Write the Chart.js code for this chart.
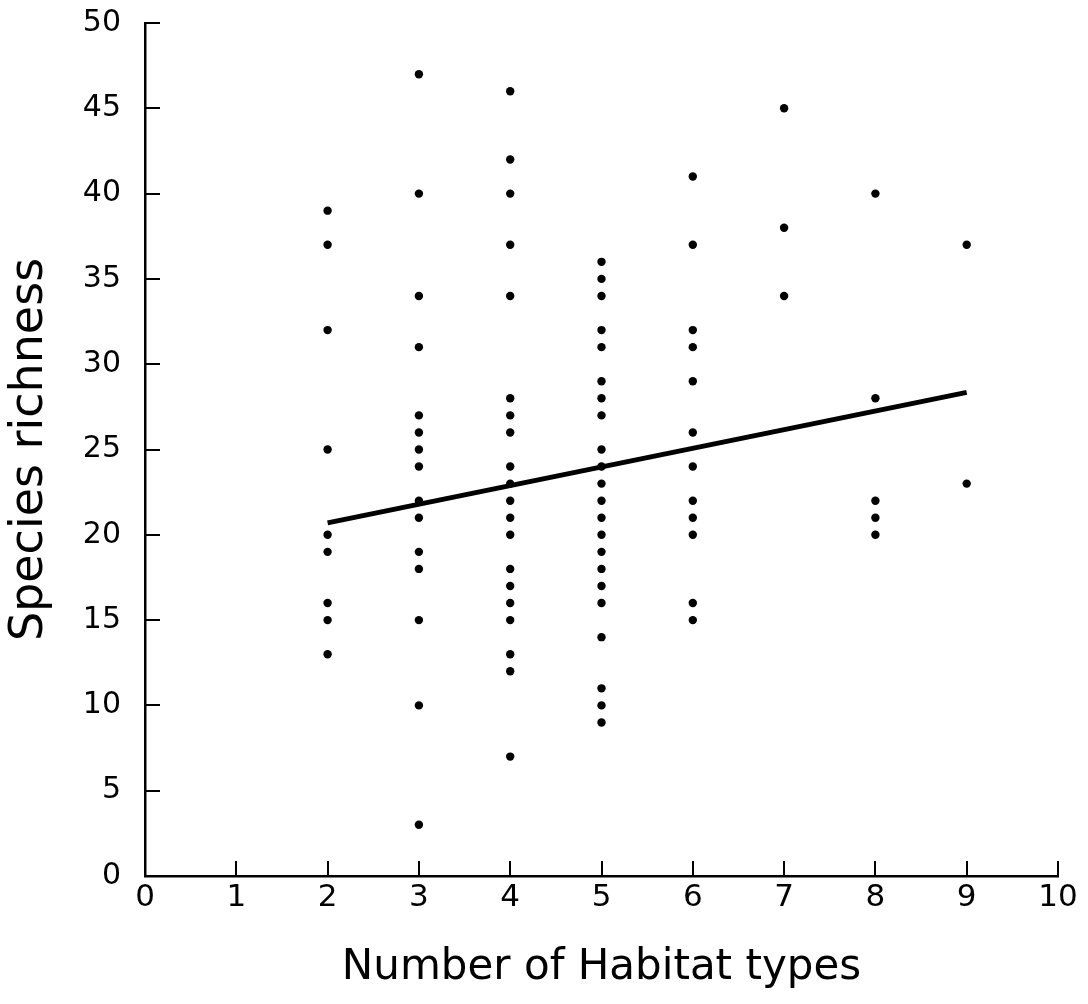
<!doctype html>
<html lang="en">
<head>
  <meta charset="utf-8">
  <title>Species richness vs habitat types</title>
  <script src="https://cdn.jsdelivr.net/npm/chart.js@4.4.1/dist/chart.umd.min.js"></script>
  <style>
    body { margin: 0; background: #fff; }
    #wrap { width: 1088px; height: 1004px; }
  </style>
</head>
<body>
  <div id="wrap"><canvas id="myChart" width="1088" height="1004"></canvas></div>
  <script>
    // number of habitat types per site and species richness found there
    const habitatX = [
      2, 2, 2, 2, 2, 2, 2, 2, 2,
      3, 3, 3, 3, 3, 3, 3, 3, 3, 3, 3, 3, 3, 3, 3,
      4, 4, 4, 4, 4, 4, 4, 4, 4, 4, 4, 4, 4, 4, 4, 4, 4, 4, 4, 4,
      5, 5, 5, 5, 5, 5, 5, 5, 5, 5, 5, 5, 5, 5, 5, 5, 5, 5, 5, 5, 5, 5,
      6, 6, 6, 6, 6, 6, 6, 6, 6, 6, 6, 6,
      7, 7, 7,
      8, 8, 8, 8, 8,
      9, 9
    ];
    const richnessY = [
      39, 37, 32, 25, 20, 19, 16, 15, 13,
      47, 40, 34, 31, 27, 26, 25, 24, 22, 21, 19, 18, 15, 10, 3,
      46, 42, 40, 37, 34, 28, 27, 26, 24, 23, 22, 21, 20, 18, 17, 16, 15, 13, 12, 7,
      36, 35, 34, 32, 31, 29, 28, 27, 25, 24, 23, 22, 21, 20, 19, 18, 17, 16, 14, 11, 10, 9,
      41, 37, 32, 31, 29, 26, 24, 22, 21, 20, 16, 15,
      45, 38, 34,
      40, 28, 22, 21, 20,
      37, 23
    ];

    // end points of the fitted line
    const fitX = [2, 9];
    const fitY = [20.7, 28.35];

    const xTicks = [0, 1, 2, 3, 4, 5, 6, 7, 8, 9, 10];
    const yTicks = [0, 5, 10, 15, 20, 25, 30, 35, 40, 45, 50];

    const points = habitatX.map((x, i) => ({ x: x, y: richnessY[i] }));
    const fitLine = fitX.map((x, i) => ({ x: x, y: fitY[i] }));

    // short tick marks pointing into the plot
    const innerTicks = {
      id: 'innerTicks',
      afterDraw(chart) {
        const ctx = chart.ctx;
        const xs = chart.scales.x, ys = chart.scales.y;
        const area = chart.chartArea;
        ctx.save();
        ctx.strokeStyle = '#000';
        ctx.lineWidth = 2;
        ctx.beginPath();
        xTicks.forEach(v => {
          const px = Math.round(xs.getPixelForValue(v));
          ctx.moveTo(px, area.bottom);
          ctx.lineTo(px, area.bottom - 15);
        });
        yTicks.forEach(v => {
          const py = Math.round(ys.getPixelForValue(v));
          ctx.moveTo(area.left, py);
          ctx.lineTo(area.left + 15, py);
        });
        ctx.stroke();
        ctx.restore();
      }
    };

    const font = 'DejaVu Sans';

    new Chart(document.getElementById('myChart'), {
      type: 'scatter',
      data: {
        datasets: [
          {
            label: 'sites',
            data: points,
            backgroundColor: '#000',
            borderColor: '#000',
            pointRadius: 4.2,
            pointBorderWidth: 0
          },
          {
            type: 'line',
            label: 'fit',
            data: fitLine,
            borderColor: '#000',
            borderWidth: 5,
            pointRadius: 0,
            fill: false
          }
        ]
      },
      options: {
        responsive: false,
        animation: false,
        layout: { padding: { top: 23, right: 30, left: 0, bottom: 0 } },
        plugins: {
          legend: { display: false },
          tooltip: { enabled: false }
        },
        scales: {
          x: {
            type: 'linear',
            min: 0,
            max: 10,
            afterBuildTicks(scale) { scale.ticks = xTicks.map(v => ({ value: v })); },
            afterFit(scale) { scale.height = 128; },
            grid: { display: false },
            border: { display: true, color: '#000', width: 2.5 },
            ticks: { color: '#000', font: { family: font, size: 31 }, padding: -5, maxRotation: 0 },
            title: {
              display: true,
              text: 'Number of Habitat types',
              color: '#000',
              font: { family: font, size: 42 },
              padding: { top: 10, bottom: 11 }
            }
          },
          y: {
            type: 'linear',
            min: 0,
            max: 50,
            afterBuildTicks(scale) { scale.ticks = yTicks.map(v => ({ value: v })); },
            afterFit(scale) {
              scale.width = 145;
              scale.paddingTop = 0;
              scale.paddingBottom = 0;
            },
            grid: { display: false },
            border: { display: true, color: '#000', width: 2.5 },
            ticks: { color: '#000', font: { family: font, size: 30 }, padding: 16 },
            title: {
              display: true,
              text: 'Species richness',
              color: '#000',
              font: { family: font, size: 46 },
              padding: { top: 2 }
            }
          }
        }
      },
      plugins: [innerTicks]
    });
  </script>
</body>
</html>
